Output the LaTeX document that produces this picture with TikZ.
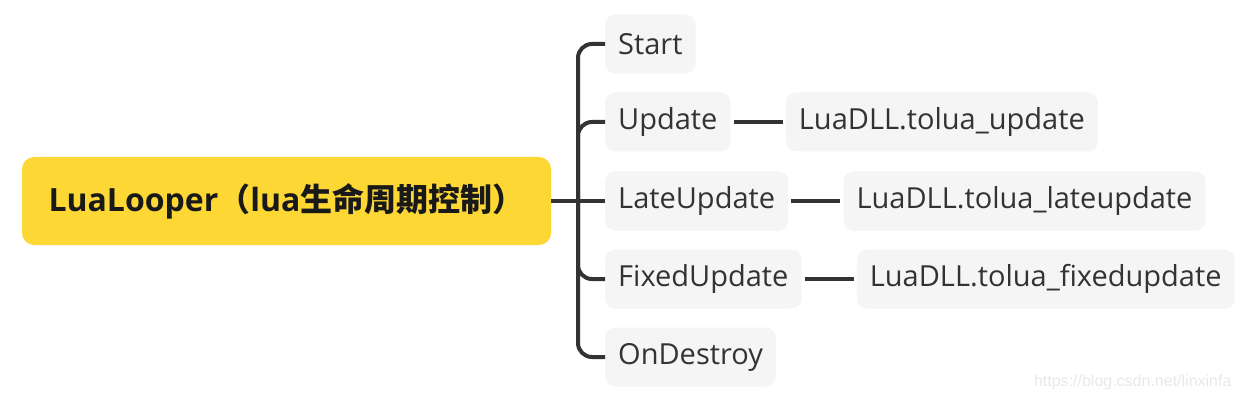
\documentclass[tikz,border=0pt]{standalone}
\usepackage{fontspec}
\setmainfont{Open Sans}
\newfontfamily\cjk{Noto Sans CJK SC}
\newfontfamily\markfont{Liberation Sans}
\usepackage{xcolor}
\usepackage{tikz}
\usetikzlibrary{positioning}

\definecolor{rootyellow}{RGB}{253,216,53}
\definecolor{leafgray}{RGB}{245,245,245}
\definecolor{linegray}{RGB}{51,51,51}
\definecolor{markgray}{RGB}{232,232,232}

\begin{document}
\begin{tikzpicture}[
    x=1pt, y=-1pt,
    node distance=55pt,
    rootbox/.style={rounded corners=12pt, fill=rootyellow, minimum width=529pt, minimum height=88pt, inner xsep=10pt, text=black!90, font=\fontsize{32}{38}\selectfont\bfseries},
    leaf/.style={rounded corners=10pt, fill=leafgray, minimum height=59pt, inner xsep=13pt, text=linegray, font=\fontsize{29}{34}\selectfont},
    branch/.style={draw=linegray, line width=4pt, rounded corners=14pt},
    link/.style={draw=linegray, line width=4pt, shorten <=3pt, shorten >=3pt}
]
\useasboundingbox (0,0) rectangle (1243,401);

\node[rootbox] (root) at (286.5,201) {LuaLooper{\cjk （}lua{\cjk 生命周期控制）}};
\coordinate (spine) at (578,201);

\node[leaf, anchor=west] (start) at (605,44) {Start};
\node[leaf, anchor=west] (update) at (605,122) {Update};
\node[leaf, anchor=west] (lateupdate) at (605,201) {LateUpdate};
\node[leaf, anchor=west] (fixedupdate) at (605,279) {FixedUpdate};
\node[leaf, anchor=west] (ondestroy) at (605,357) {OnDestroy};

\node[leaf, right=of update] (toluaupdate) {LuaDLL.tolua\_update};
\node[leaf, right=of lateupdate] (toluaupdatelate) {LuaDLL.tolua\_lateupdate};
\node[leaf, right=of fixedupdate] (toluaupdatefixed) {LuaDLL.tolua\_fixedupdate};

% root to the spine, spine to every child
\draw[branch] (root.east) -- (spine);
\draw[branch] (start.west) -| (spine);
\draw[branch] (update.west) -| (spine);
\draw[branch] (lateupdate.west) -- (spine);
\draw[branch] (fixedupdate.west) -| (spine);
\draw[branch] (ondestroy.west) -| (spine);

\draw[link] (update) -- (toluaupdate);
\draw[link] (lateupdate) -- (toluaupdatelate);
\draw[link] (fixedupdate) -- (toluaupdatefixed);

\node[text=markgray, font=\fontsize{16}{19}\selectfont\markfont, anchor=east] (watermark) at (1235,382) {https://blog.csdn.net/linxinfa};
\end{tikzpicture}
\end{document}
